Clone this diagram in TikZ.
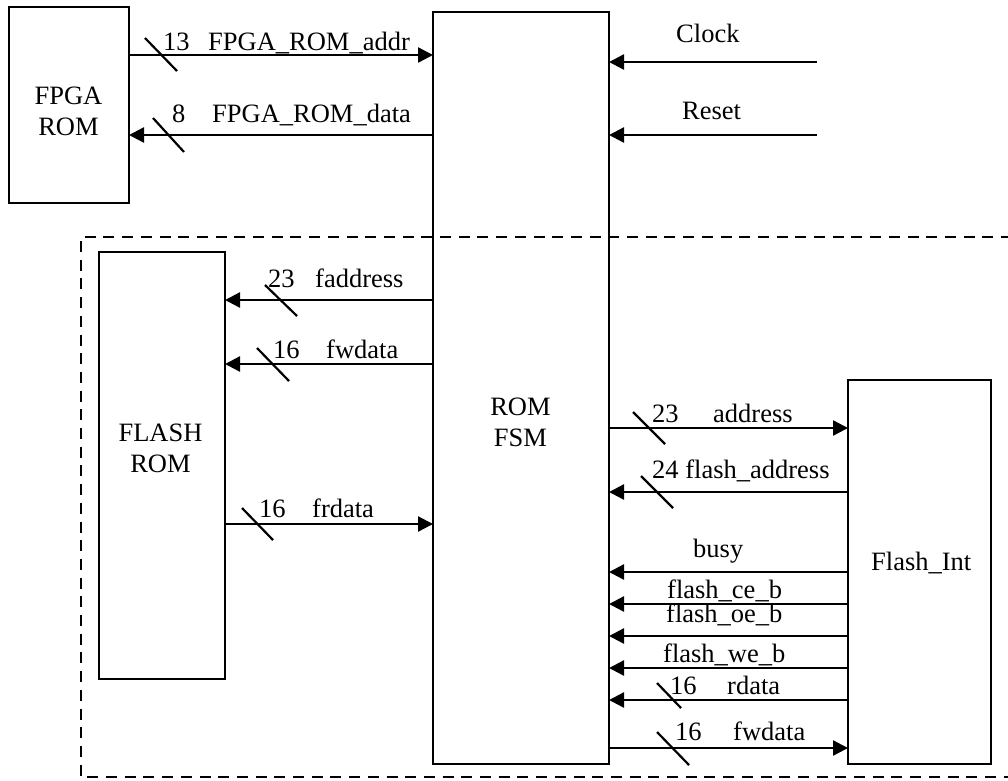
\documentclass[tikz,border=0pt]{standalone}
\usepackage{fontspec}
\setmainfont{Liberation Serif}
\usetikzlibrary{arrows.meta}

\begin{document}
\begin{tikzpicture}[
    x=1pt, y=-1pt,
    font=\fontsize{26.5}{31}\selectfont,
    blk/.style = {rectangle, draw=black, line width=2.4pt, inner sep=0pt, outer sep=0pt},
    txt/.style = {inner sep=0pt, align=center},
    lbl/.style = {inner sep=0pt, anchor=base west},
    sig/.style = {line width=2.4pt, -{Triangle[length=15pt, width=15pt]}},
    bus/.style = {line width=2.2pt},
    region/.style = {line width=2.4pt, dash pattern=on 11pt off 7.7pt}
]
    \useasboundingbox (0,0) rectangle (1008,780);

    % Blocks
    \node[blk, minimum width=120pt, minimum height=196pt] (fpgarom) at (69,105) {};
    \node[txt] (fpgatxt) at (68.5,111) {FPGA\\ROM};

    \node[blk, minimum width=176pt, minimum height=752pt] (romfsm) at (521,388) {};
    \node[txt] (fsmtxt) at (520.5,422) {ROM\\FSM};

    \node[blk, minimum width=126pt, minimum height=427pt] (flashrom) at (162,465.5) {};
    \node[txt] (flashtxt) at (160.5,448) {FLASH\\ROM};

    \node[blk, minimum width=143pt, minimum height=384pt] (flashint) at (919.5,572) {};
    \node[lbl] (inttxt) at (871,570) {Flash\_Int};

    % Dashed region (open to the right)
    \draw[region] (1012,237) -- (81,237) -- (81,777) -- (1012,777);

    % External inputs
    \coordinate (clk) at (817,62);
    \coordinate (rst) at (817,135);

    % FPGA ROM <-> ROM FSM
    \draw[sig] (fpgarom.east |- 0,55) -- (romfsm.west |- 0,55);
    \draw[bus] (145,38) -- (177,71);
    \node[lbl] (n13) at (163,50) {13};
    \node[lbl] (romaddr) at (208,50) {FPGA\_ROM\_addr};

    \draw[sig] (romfsm.west |- 0,135) -- (fpgarom.east |- 0,135);
    \draw[bus] (153,118) -- (184,152);
    \node[lbl] (n8) at (172,122) {8};
    \node[lbl] (romdata) at (212,122) {FPGA\_ROM\_data};

    % Clock and reset
    \draw[sig] (clk) -- (romfsm.east |- clk);
    \node[lbl] (clock) at (676,42) {Clock};
    \draw[sig] (rst) -- (romfsm.east |- rst);
    \node[lbl] (reset) at (682,119) {Reset};

    % ROM FSM <-> FLASH ROM
    \draw[sig] (romfsm.west |- 0,300) -- (flashrom.east |- 0,300);
    \draw[bus] (265,285) -- (297,316);
    \node[lbl] (n23a) at (268,287) {23};
    \node[lbl] (faddr) at (315,287) {faddress};

    \draw[sig] (romfsm.west |- 0,364) -- (flashrom.east |- 0,364);
    \draw[bus] (257,348) -- (289,381);
    \node[lbl] (n16a) at (273,358) {16};
    \node[lbl] (fwdl) at (326,358) {fwdata};

    \draw[sig] (flashrom.east |- 0,524) -- (romfsm.west |- 0,524);
    \draw[bus] (242,508) -- (273,540);
    \node[lbl] (n16b) at (259,517) {16};
    \node[lbl] (frd) at (312,517) {frdata};

    % ROM FSM <-> Flash_Int
    \draw[sig] (romfsm.east |- 0,428) -- (flashint.west |- 0,428);
    \draw[bus] (633,412) -- (665,444);
    \node[lbl] (n23b) at (652,422) {23};
    \node[lbl] (addr) at (713,422) {address};

    \draw[sig] (flashint.west |- 0,492) -- (romfsm.east |- 0,492);
    \draw[bus] (641,476) -- (673,508);
    \node[lbl] (faddr2) at (652,478) {24 flash\_address};

    \draw[sig] (flashint.west |- 0,572) -- (romfsm.east |- 0,572);
    \node[lbl] (busy) at (693,557) {busy};

    \draw[sig] (flashint.west |- 0,604) -- (romfsm.east |- 0,604);
    \node[lbl] (ceb) at (667,598) {flash\_ce\_b};

    \draw[sig] (flashint.west |- 0,636) -- (romfsm.east |- 0,636);
    \node[lbl] (oeb) at (666,622) {flash\_oe\_b};

    \draw[sig] (flashint.west |- 0,668) -- (romfsm.east |- 0,668);
    \node[lbl] (web) at (663,662) {flash\_we\_b};

    \draw[sig] (flashint.west |- 0,700) -- (romfsm.east |- 0,700);
    \draw[bus] (657,683) -- (681,708);
    \node[lbl] (n16c) at (670,694) {16};
    \node[lbl] (rdat) at (727,694) {rdata};

    \draw[sig] (romfsm.east |- 0,748) -- (flashint.west |- 0,748);
    \draw[bus] (657,732) -- (689,765);
    \node[lbl] (n16d) at (675,740) {16};
    \node[lbl] (fwdr) at (733,740) {fwdata};

\end{tikzpicture}
\end{document}
